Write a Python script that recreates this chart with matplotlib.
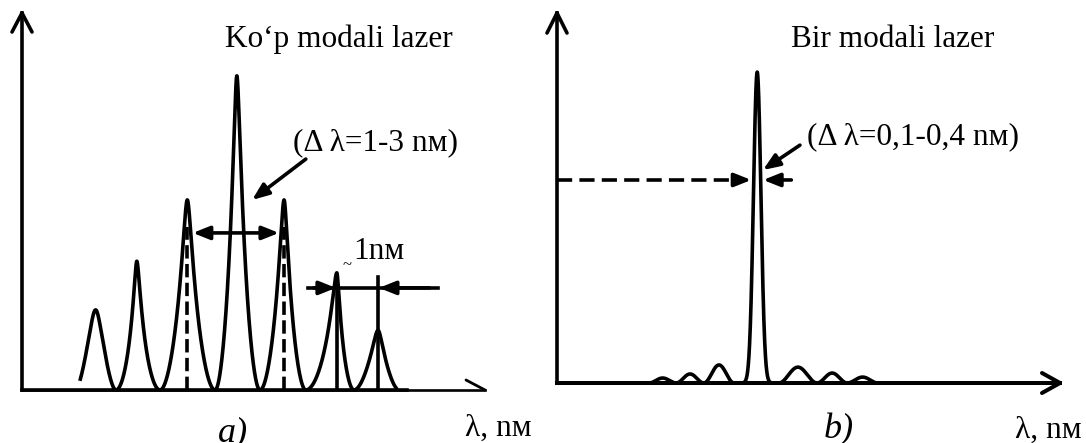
import numpy as np
import matplotlib
matplotlib.use("Agg")
import matplotlib.pyplot as plt

plt.rcParams['font.family'] = ['Liberation Serif', 'DejaVu Serif']

# ---- panel a: multi-mode laser spectrum ----
multi_centers = [1.59, 2.48, 3.57, 4.64, 5.66, 6.80, 7.69]
multi_heights = [0.255, 0.41, 0.605, 1.0, 0.605, 0.373, 0.19]
multi_widths = [0.60, 0.36, 0.40, 0.40, 0.40, 0.38, 0.50]
multi_round = [0.22, 0.06, 0.08, 0.07, 0.08, 0.06, 0.12]
multi_bounds = [1.14, 2.03, 2.98, 4.17, 5.14, 6.13, 7.17, 8.15]
multi_span = [1.26, 8.08]

# ---- panel b: single-mode laser spectrum ----
single_center = 3.98
single_height = 1.0
single_width = 0.105
lobe_left = [1.83, 2.37, 2.92, 4.41, 5.17, 5.77]
lobe_right = [2.37, 2.92, 3.52, 5.17, 5.77, 6.38]
lobe_heights = [0.016, 0.029, 0.058, 0.051, 0.032, 0.019]
single_span = [1.83, 6.38]

LW = 2.6
FS = 22.5


def mode_profile(t, a, e):
    s = np.sqrt(t ** 2 + e ** 2) - e
    s1 = np.sqrt(1 + e ** 2) - e
    f = np.exp(-s / a)
    f1 = np.exp(-s1 / a)
    return (f - f1) / (1.0 - f1) * (1.0 - t ** 4)


def multi_mode(x):
    y = np.zeros_like(x)
    for i, (c, h) in enumerate(zip(multi_centers, multi_heights)):
        lo, hi = multi_bounds[i], multi_bounds[i + 1]
        m = (x >= lo) & (x <= hi)
        t = np.where(x[m] < c, (c - x[m]) / (c - lo), (x[m] - c) / (hi - c))
        y[m] = h * mode_profile(np.clip(t, 0, 1), multi_widths[i], multi_round[i])
    return y


def single_mode(x):
    y = single_height * np.exp(-((x - single_center) / single_width) ** 2)
    for a, b, h in zip(lobe_left, lobe_right, lobe_heights):
        m = (x >= a) & (x <= b)
        y[m] += h * np.sin(np.pi * (x[m] - a) / (b - a)) ** 2
    return y


def px(ax, x, y, dx, dy):
    X, Y = ax.transData.transform((x, y))
    return ax.transData.inverted().transform((X + dx, Y + dy))


def barb(ax, tip, dx, dy, lw=LW):
    p = px(ax, tip[0], tip[1], dx, dy)
    ax.plot([tip[0], p[0]], [tip[1], p[1]], color='black', lw=lw,
            solid_capstyle='round', clip_on=False)


def filled_arrow(ax, start, end):
    ax.annotate('', xy=end, xytext=start,
                arrowprops=dict(arrowstyle='-|>,head_length=0.5,head_width=0.2',
                                mutation_scale=20, color='black', lw=LW,
                                shrinkA=0, shrinkB=0),
                annotation_clip=False)


def crossing(xs, ys, level):
    order = np.argsort(ys)
    return float(np.interp(level, ys[order], xs[order]))


W, H = 1086, 443
fig = plt.figure(figsize=(W / 100, H / 100), dpi=100)
fig.patch.set_facecolor('white')

# ------------------------------------------------------------------ panel a
ax1 = fig.add_axes([22 / W, (H - 390) / H, 463 / W, 377 / H])
ax1.set_xlim(0, 10)
ax1.set_ylim(0, 1.2)
ax1.axis('off')

x1 = np.linspace(multi_span[0], multi_span[1], 4000)
y1 = multi_mode(x1)
ax1.plot(x1, y1, color='black', lw=LW, clip_on=False)

# axes with arrows
ax1.plot([0, 0], [0, 1.2], color='black', lw=LW, clip_on=False)
barb(ax1, (0, 1.2), -10, -19)
barb(ax1, (0, 1.2), 10, -19)
ax1.plot([0, 8.32], [0, 0], color='black', lw=LW, clip_on=False)
ax1.plot([0, 10], [0, 0], color='black', lw=1.9, clip_on=False)
barb(ax1, (10, 0), -19, 10, lw=2.0)

# dashed markers at the neighbouring modes
for c in (multi_centers[2], multi_centers[4]):
    ax1.plot([c, c], [0, 0.52], color='black', lw=LW,
             linestyle=(0, (3.7, 1.5)), clip_on=False)

# spectral width double arrow
lvl = 0.5
off = 0.045
m3 = (x1 >= multi_centers[2]) & (x1 <= multi_bounds[3])
m5 = (x1 >= multi_bounds[4]) & (x1 <= multi_centers[4])
xa = crossing(x1[m3], y1[m3], lvl) + off
xb = crossing(x1[m5], y1[m5], lvl) - off
ax1.annotate('', xy=(xb, lvl), xytext=(xa, lvl),
             arrowprops=dict(arrowstyle='<|-|>,head_length=0.5,head_width=0.2',
                             mutation_scale=20, color='black', lw=LW,
                             shrinkA=0, shrinkB=0))
filled_arrow(ax1, (6.13, 0.735), (4.97, 0.605))
ax1.text(5.85, 0.787, '(Δ λ=1-3 nм)', fontsize=FS, va='center', ha='left')

# mode spacing marker
ax1.plot([multi_centers[5]] * 2, [0, 0.366], color='black', lw=LW)
ax1.plot([multi_centers[6]] * 2, [0, 0.36], color='black', lw=LW)
ax1.plot([6.18, 8.98], [0.325, 0.325], color='black', lw=LW, clip_on=False)
filled_arrow(ax1, (6.3, 0.325), (multi_centers[5] - 0.02, 0.325))
filled_arrow(ax1, (8.8, 0.325), (multi_centers[6] + 0.02, 0.325))
ax1.text(6.93, 0.398, '~', fontsize=12, va='center', ha='left')
ax1.text(7.15, 0.44, '1nм', fontsize=FS, va='center', ha='left')

ax1.text(4.38, 1.092, 'Ko‘p modali lazer', fontsize=FS, va='baseline', ha='left')
ax1.text(4.23, -0.137, 'a)', fontsize=26, style='italic', va='center', ha='left',
         clip_on=False)
ax1.text(9.57, -0.121, 'λ, nм', fontsize=FS, va='center', ha='left', clip_on=False)

# ------------------------------------------------------------------ panel b
ax2 = fig.add_axes([557 / W, (H - 383) / H, 503 / W, 370 / H])
ax2.set_xlim(0, 10)
ax2.set_ylim(0, 1.19)
ax2.axis('off')

x2 = np.linspace(single_span[0], single_span[1], 4000)
y2 = single_mode(x2)
ax2.plot(x2, y2, color='black', lw=LW, clip_on=False)

ax2.plot([0, 0], [0, 1.19], color='black', lw=LW, clip_on=False)
barb(ax2, (0, 1.19), -10, -20)
barb(ax2, (0, 1.19), 10, -20)
ax2.plot([0, 10], [0, 0], color='black', lw=2.9, clip_on=False)
barb(ax2, (10, 0), -18, 10, lw=2.9)
barb(ax2, (10, 0), -18, -10, lw=2.9)

# linewidth marker at the dashed level
lvl2 = 0.653
half = single_width * np.sqrt(np.log(single_height / lvl2))
off2 = 0.05
left_tip = single_center - half - off2
right_tip = single_center + half + off2
ax2.plot([0, left_tip - 0.28], [lvl2, lvl2], color='black', lw=LW,
         linestyle=(0, (4.2, 2.0)))
filled_arrow(ax2, (left_tip - 0.3, lvl2), (left_tip, lvl2))
filled_arrow(ax2, (right_tip + 0.56, lvl2), (right_tip, lvl2))

lvl3 = 0.685
tip3 = single_center + single_width * np.sqrt(np.log(single_height / lvl3)) + off2
filled_arrow(ax2, (4.83, 0.765), (tip3, lvl3))
ax2.text(4.97, 0.791, '(Δ λ=0,1-0,4 nм)', fontsize=FS, va='center', ha='left',
         clip_on=False)

ax2.text(4.65, 1.08, 'Bir modali lazer', fontsize=FS, va='baseline', ha='left')
ax2.text(5.31, -0.151, 'b)', fontsize=26, style='italic', va='center', ha='left',
         clip_on=False)
ax2.text(9.1, -0.151, 'λ, nм', fontsize=FS, va='center', ha='left', clip_on=False)

fig.savefig('out.png', dpi=100, facecolor='white')
